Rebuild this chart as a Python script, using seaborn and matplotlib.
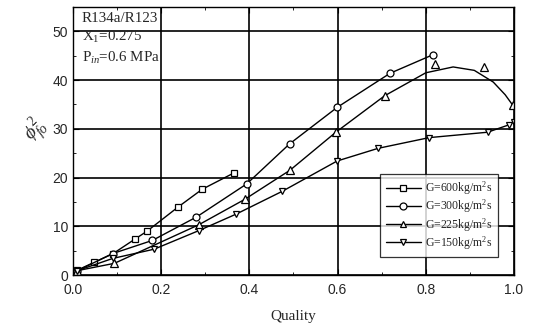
import numpy as np
import pandas as pd
import seaborn as sns
import matplotlib.pyplot as plt
from matplotlib.lines import Line2D
from matplotlib.ticker import MultipleLocator, FormatStrFormatter

sns.set_style('ticks')
plt.rcParams['font.family'] = ['Liberation Sans', 'DejaVu Sans']
plt.rcParams['mathtext.fontset'] = 'custom'
plt.rcParams['mathtext.rm'] = 'Liberation Serif'
plt.rcParams['mathtext.it'] = 'Liberation Serif:italic'

# 데이터
x_600 = [0.01, 0.048, 0.091, 0.141, 0.168, 0.239, 0.293, 0.366]
y_600 = [1.0, 2.6, 4.4, 7.4, 9.0, 14.0, 17.6, 21.0]

x_300 = [0.01, 0.09, 0.18, 0.28, 0.394, 0.491, 0.599, 0.719, 0.816]
y_300 = [0.9, 4.4, 7.1, 11.9, 18.7, 26.9, 34.4, 41.4, 45.2]

x_225 = [0.01, 0.094, 0.285, 0.389, 0.492, 0.596, 0.707, 0.822, 0.932, 0.997]
y_225 = [0.9, 2.4, 10.3, 15.5, 21.5, 29.3, 36.8, 43.4, 42.6, 34.8]
# 225 곡선 (피팅선, 그림에서 읽음)
xc_225 = [0.01, 0.094, 0.285, 0.389, 0.492, 0.596, 0.707, 0.80, 0.862, 0.91, 0.953, 0.98, 1.0]
yc_225 = [0.9, 2.4, 10.3, 15.5, 21.5, 29.3, 36.8, 41.5, 42.7, 42.0, 39.6, 37.0, 34.5]

x_150 = [0.01, 0.09, 0.184, 0.285, 0.37, 0.475, 0.599, 0.692, 0.808, 0.94, 0.988, 1.0]
y_150 = [0.9, 3.4, 5.3, 9.1, 12.5, 17.2, 23.4, 26.0, 28.2, 29.3, 30.8, 31.5]

labels = ['G=600kg/m$^2$s', 'G=300kg/m$^2$s', 'G=225kg/m$^2$s', 'G=150kg/m$^2$s']

fig = plt.figure(figsize=(5.34, 3.26), dpi=100)
ax = fig.add_axes([0.1367, 0.1564, 0.8258, 0.8221])

mk = dict(color='black', markerfacecolor='white', markeredgecolor='black',
          markersize=5, markeredgewidth=0.9, linewidth=1.0)

sns.lineplot(x=x_600, y=y_600, marker='s', sort=False, ax=ax, **mk)
sns.lineplot(x=x_300, y=y_300, marker='o', sort=False, ax=ax, **mk)
sns.lineplot(x=xc_225, y=yc_225, sort=False, ax=ax, color='black', linewidth=1.0)
ax.plot(x_225, y_225, marker='^', linestyle='none', color='black',
        markerfacecolor='white', markersize=5.5, markeredgewidth=0.9)
sns.lineplot(x=x_150, y=y_150, marker='v', sort=False, ax=ax, **mk)

ax.set_xlim(0, 1.0)
ax.set_ylim(0, 55)
ax.xaxis.set_major_locator(MultipleLocator(0.2))
ax.xaxis.set_minor_locator(MultipleLocator(0.1))
ax.xaxis.set_major_formatter(FormatStrFormatter('%.1f'))
ax.yaxis.set_major_locator(MultipleLocator(10))
ax.yaxis.set_minor_locator(MultipleLocator(5))
ax.grid(True, which='major', color='black', linewidth=1.2)
ax.tick_params(which='both', direction='in', top=True, right=True, labelsize=10,
               color='black')
ax.tick_params(which='major', length=4)
ax.tick_params(which='minor', length=2.5)
ax.tick_params(axis='x', pad=6)
for s in ax.spines.values():
    s.set_color('black')
    s.set_linewidth(1.0)

ax.set_xlabel('Quality', family='Liberation Serif', fontsize=11, labelpad=9)
ax.set_ylabel(r'$\phi^2_{fo}$', fontsize=14, rotation=45, labelpad=4)

txt = dict(family='Liberation Serif', fontsize=10.8, transform=ax.transAxes, va='center')
ax.text(0.02, 0.957, 'R134a/R123', **txt)
ax.text(0.02, 0.887, 'X$_1$=0.275', **txt)
ax.text(0.02, 0.81, 'P$_{in}$=0.6 MPa', **txt)

handles = [Line2D([], [], marker=m, **mk) for m in ['s', 'o', '^', 'v']]
leg = ax.legend(handles, labels, loc='lower right', bbox_to_anchor=(0.964, 0.067),
                prop={'family': 'Liberation Serif', 'size': 8.5}, frameon=True,
                fancybox=False, handlelength=3.0, handletextpad=0.35,
                borderpad=0.45, labelspacing=0.05, borderaxespad=0)
leg.get_frame().set_edgecolor('black')
leg.get_frame().set_linewidth(0.9)

plt.savefig('out.png', dpi=100)
